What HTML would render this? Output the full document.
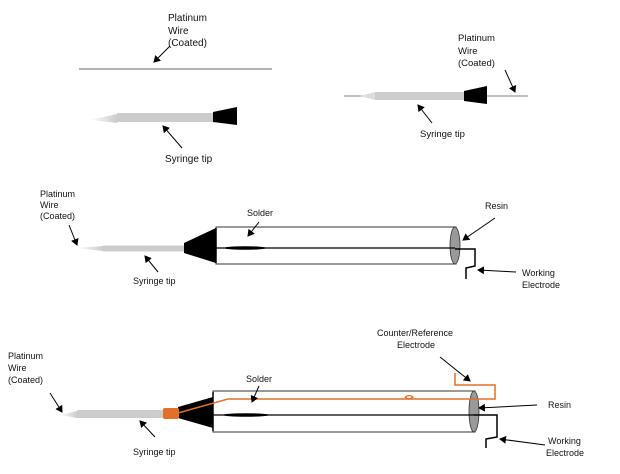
<!DOCTYPE html>
<html><head><meta charset="utf-8"><style>
html,body{margin:0;padding:0;background:#fff;}
svg{display:block;}
text{font-family:"Liberation Sans",Arial,sans-serif;fill:#111;}
</style></head><body>
<svg width="620" height="474" viewBox="0 0 620 474" xmlns="http://www.w3.org/2000/svg">
<defs>
<marker id="ah" markerWidth="8" markerHeight="8" refX="6" refY="4" orient="auto" markerUnits="userSpaceOnUse">
<path d="M0,0 L7,4 L0,8 z" fill="#000"/></marker>
<linearGradient id="bev" x1="0" x2="1"><stop offset="0" stop-color="#fff"/><stop offset="1" stop-color="#ccc"/></linearGradient>
</defs>
<g font-size="10">
<!-- Top-left -->
<text x="168" y="21">Platinum</text><text x="168" y="34">Wire</text><text x="168" y="46">(Coated)</text>
<line x1="79" y1="69" x2="272" y2="69" stroke="#999" stroke-width="1.5"/>
<line x1="170" y1="46" x2="154" y2="62" stroke="#000" marker-end="url(#ah)"/>
<polygon points="90,120 117,114 117,123" fill="url(#bev)"/>
<rect x="117" y="113" width="96" height="9" fill="#ccc"/>
<polygon points="213,112 237,107 237,125 213,122" fill="#000"/>
<line x1="182" y1="148" x2="163" y2="126" stroke="#000" marker-end="url(#ah)"/>
<text x="165" y="162">Syringe tip</text>
</g>
<g font-size="9.5">
<!-- Top-right -->
<text x="458" y="41">Platinum</text><text x="458" y="54">Wire</text><text x="458" y="66">(Coated)</text>
<line x1="344" y1="96" x2="528" y2="96" stroke="#999" stroke-width="1.3"/>
<polygon points="360,96 375,92 375,100" fill="#ddd"/>
<rect x="375" y="92" width="90" height="8" fill="#ccc"/>
<polygon points="464,91 487,86 487,104 464,101" fill="#000"/>
<line x1="505" y1="70" x2="515" y2="92" stroke="#000" marker-end="url(#ah)"/>
<line x1="432" y1="123" x2="418" y2="105" stroke="#000" marker-end="url(#ah)"/>
<text x="420" y="137">Syringe tip</text>
</g>
<g font-size="9">
<!-- Middle -->
<text x="40" y="197">Platinum</text><text x="40" y="208">Wire</text><text x="40" y="219">(Coated)</text>
<line x1="69" y1="225" x2="77" y2="245" stroke="#000" marker-end="url(#ah)"/>
<polygon points="76,248 103,246 103,251" fill="url(#bev)"/>
<rect x="103" y="245.5" width="81" height="6" fill="#ccc"/>
<polygon points="184,243 216,228 216,263 184,253" fill="#000"/>
<rect x="216" y="227" width="240" height="37" fill="#fff" stroke="#333" stroke-width="1"/>
<line x1="216" y1="228" x2="216" y2="263" stroke="#000" stroke-width="1.5"/>
<ellipse cx="455" cy="245.5" rx="5" ry="18.5" fill="#999" stroke="#333" stroke-width="0.8"/>
<line x1="216" y1="248" x2="455" y2="248" stroke="#000" stroke-width="1.3"/>
<ellipse cx="245" cy="248" rx="21" ry="1.8" fill="#000"/>
<polyline points="455,249 475,249 475,266 466,268 466,279" fill="none" stroke="#000" stroke-width="1.5"/>
<text x="247" y="216">Solder</text>
<line x1="259" y1="222" x2="248" y2="236" stroke="#000" marker-end="url(#ah)"/>
<text x="485" y="209">Resin</text>
<line x1="495" y1="218" x2="463" y2="240" stroke="#000" marker-end="url(#ah)"/>
<line x1="516" y1="272" x2="478" y2="270" stroke="#000" marker-end="url(#ah)"/>
<text x="522" y="276">Working</text><text x="522" y="288">Electrode</text>
<line x1="145" y1="258" x2="157" y2="271" stroke="#000" stroke-width="0"/>
<line x1="158" y1="272" x2="145" y2="256" stroke="#000" marker-end="url(#ah)"/>
<text x="133" y="284">Syringe tip</text>
</g>
<g font-size="9">
<!-- Bottom -->
<text x="8" y="359">Platinum</text><text x="8" y="371">Wire</text><text x="8" y="383">(Coated)</text>
<line x1="50" y1="393" x2="62" y2="412" stroke="#000" marker-end="url(#ah)"/>
<polygon points="60,415 77,411 77,418" fill="url(#bev)"/>
<rect x="77" y="410" width="87" height="8" fill="#ccc"/>
<polygon points="178,407 213,397 213,428 178,418" fill="#000"/>
<rect x="163" y="408" width="16" height="11" rx="2" fill="#e0702a"/>
<rect x="213" y="391" width="262" height="41" fill="#fff" stroke="#333" stroke-width="1"/>
<line x1="213" y1="392" x2="213" y2="431" stroke="#000" stroke-width="1.5"/>
<ellipse cx="474" cy="411.5" rx="5" ry="20.5" fill="#999" stroke="#333" stroke-width="0.8"/>
<line x1="213" y1="415" x2="474" y2="415" stroke="#000" stroke-width="1.3"/>
<ellipse cx="246" cy="415" rx="23" ry="1.8" fill="#000"/>
<polyline points="178,413 228,399 495,399 495,385 455,385 455,373" fill="none" stroke="#e0702a" stroke-width="1.5"/>
<path d="M405,397 q4,4 8,0 q-4,-3 -8,0" fill="none" stroke="#e0702a" stroke-width="1.3"/>
<polyline points="474,415 497,415 497,437 486,439 486,448" fill="none" stroke="#000" stroke-width="1.5"/>
<text x="246" y="382">Solder</text>
<line x1="259" y1="386" x2="252" y2="402" stroke="#000" marker-end="url(#ah)"/>
<text x="377" y="336">Counter/Reference</text><text x="397" y="348">Electrode</text>
<line x1="440" y1="357" x2="470" y2="381" stroke="#000" marker-end="url(#ah)"/>
<text x="548" y="408">Resin</text>
<line x1="537" y1="405" x2="479" y2="408" stroke="#000" marker-end="url(#ah)"/>
<line x1="545" y1="445" x2="500" y2="439" stroke="#000" marker-end="url(#ah)"/>
<text x="548" y="444">Working</text><text x="546" y="456">Electrode</text>
<line x1="155" y1="437" x2="140" y2="421" stroke="#000" marker-end="url(#ah)"/>
<text x="133" y="455">Syringe tip</text>
</g>
</svg>
</body></html>
